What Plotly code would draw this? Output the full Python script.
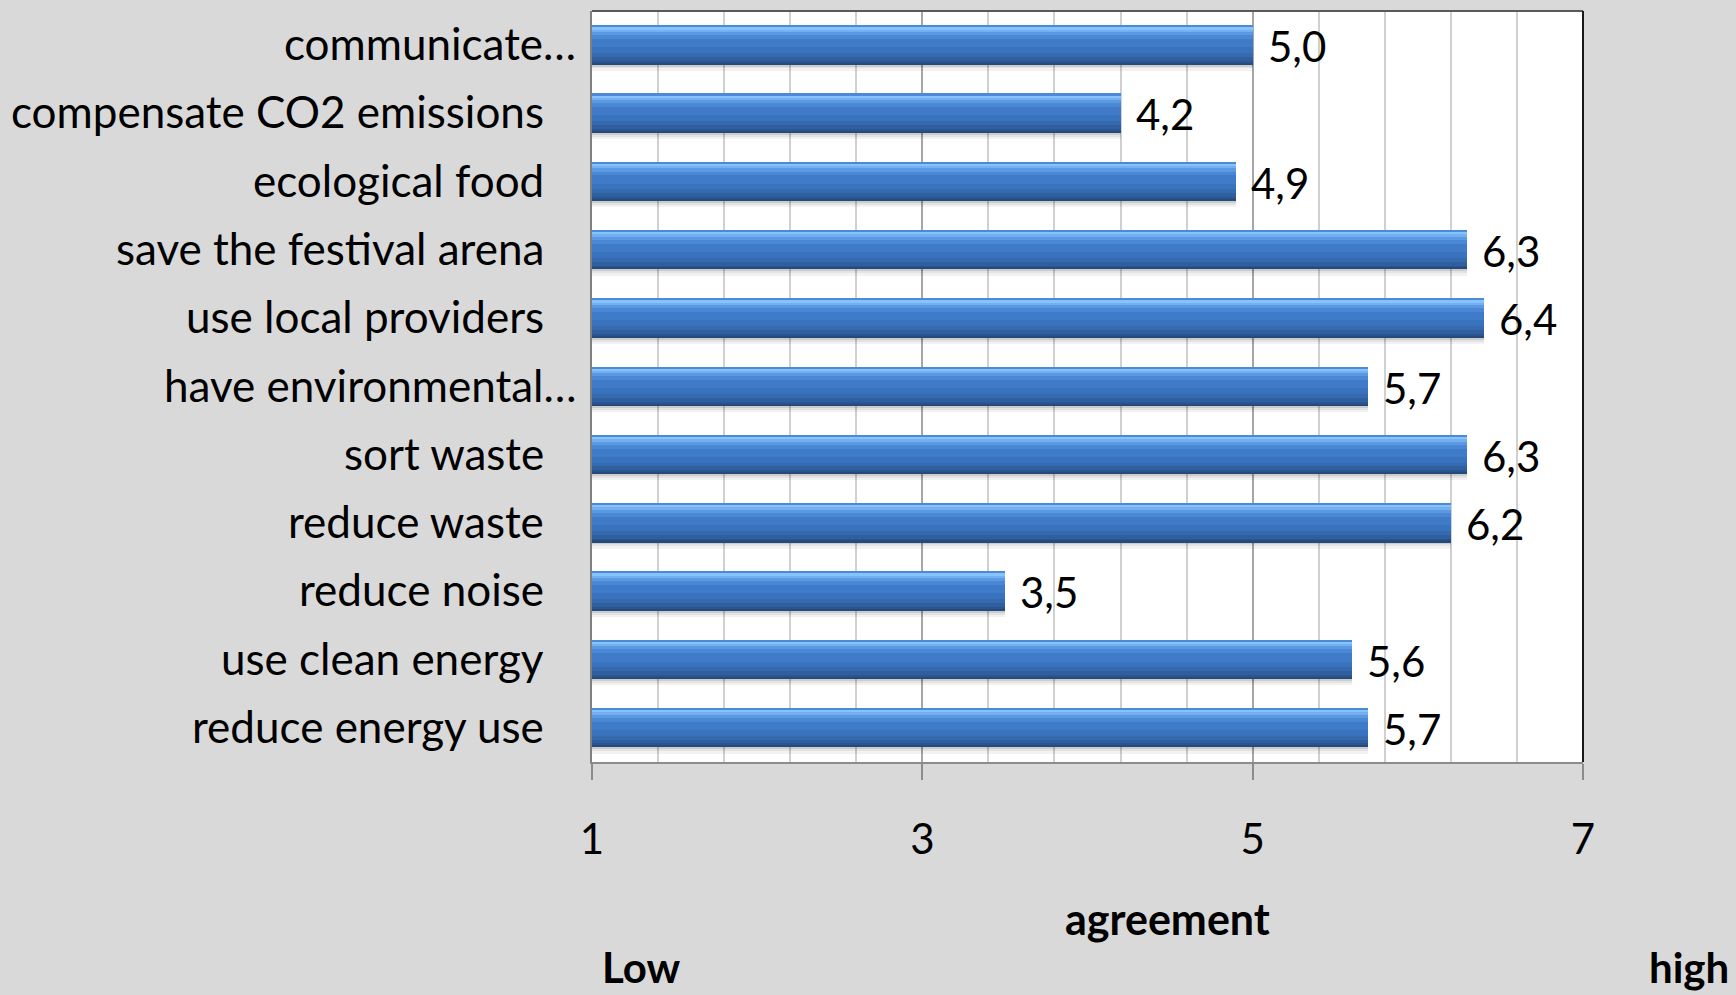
import plotly.graph_objects as go

# Survey items, top to bottom, with mean agreement (1 = low, 7 = high)
categories = [
    "communicate…",
    "compensate CO2 emissions",
    "ecological food",
    "save the festival arena",
    "use local providers",
    "have environmental…",
    "sort waste",
    "reduce waste",
    "reduce noise",
    "use clean energy",
    "reduce energy use",
]
values = [5.0, 4.2, 4.9, 6.3, 6.4, 5.7, 6.3, 6.2, 3.5, 5.6, 5.7]
x_ticks = [1, 3, 5, 7]

W_PX, H_PX = 1736, 995
PLOT_L, PLOT_R, PLOT_T, PLOT_B = 592, 1583, 11, 762
FONT = "Lato"
BAR_W = 0.57

# Horizontal strips that fake the glossy bar gradient plus a soft drop shadow
strips = [
    (0.00, 0.04, "#4d8ad6"),
    (0.04, 0.10, "#86c2fb"),
    (0.10, 0.16, "#74aff0"),
    (0.16, 0.24, "#5b99e2"),
    (0.24, 0.34, "#4a87d5"),
    (0.34, 0.55, "#3f7bc9"),
    (0.55, 0.70, "#3a73bd"),
    (0.70, 0.80, "#356aaf"),
    (0.80, 0.90, "#2f5f9f"),
    (0.90, 0.96, "#2a5590"),
    (0.96, 1.00, "#254b7e"),
    (1.00, 1.05, "rgba(0,0,0,0.20)"),
    (1.05, 1.10, "rgba(0,0,0,0.11)"),
    (1.10, 1.16, "rgba(0,0,0,0.05)"),
]

fig = go.Figure()
for s, e, col in strips:
    fig.add_trace(go.Bar(
        y=categories, x=values, orientation="h",
        width=BAR_W * (e - s), offset=-BAR_W / 2 + BAR_W * s,
        marker=dict(color=col, line=dict(width=0)),
        showlegend=False, hoverinfo="skip" if s > 0 else "x+y",
    ))


def px_x(p):
    return (p - PLOT_L) / (PLOT_R - PLOT_L)


def px_y(p):
    return (PLOT_B - p) / (PLOT_B - PLOT_T)


annotations = []
# Category labels (truncated items sit closer to the axis)
for cat in categories:
    annotations.append(dict(
        xref="paper", yref="y", x=0, y=cat, xanchor="right", yanchor="middle",
        xshift=-14 if cat.endswith("…") else -46, yshift=2,
        text=cat, showarrow=False, font=dict(family=FONT, size=44, color="#000000"),
    ))
# Value labels with decimal comma
for cat, v in zip(categories, values):
    annotations.append(dict(
        xref="x", yref="y", x=v, y=cat, xanchor="left", yanchor="middle",
        xshift=13, yshift=-1,
        text=f"{v:.1f}".replace(".", ","), showarrow=False,
        font=dict(family=FONT, size=42, color="#000000"),
    ))
# Axis title
annotations.append(dict(
    xref="paper", yref="paper", x=px_x(1167), y=px_y(918),
    xanchor="center", yanchor="middle", text="<b>agreement</b>", showarrow=False,
    font=dict(family=FONT, size=43, color="#000000"),
))
# Scale-end labels along the bottom edge
for txt, cx in [("Low", 641), ("high", 1689)]:
    annotations.append(dict(
        xref="paper", yref="paper", x=px_x(cx), y=px_y(994),
        xanchor="center", yanchor="bottom", text=f"<b>{txt}</b>", showarrow=False,
        font=dict(family=FONT, size=42, color="#000000"),
    ))

shapes = [
    dict(type="line", xref="paper", yref="paper", x0=0, x1=1, y0=1, y1=1,
         line=dict(color="#595959", width=2)),
    dict(type="line", xref="paper", yref="paper", x0=1, x1=1, y0=0, y1=1,
         line=dict(color="#1a1a1a", width=2)),
]

fig.update_layout(
    width=W_PX, height=H_PX,
    margin=dict(l=PLOT_L, r=W_PX - PLOT_R, t=PLOT_T, b=H_PX - PLOT_B, pad=0),
    paper_bgcolor="#d9d9d9", plot_bgcolor="#ffffff",
    barmode="overlay", bargap=0,
    annotations=annotations, shapes=shapes,
    xaxis=dict(
        range=[1, 7], tickmode="array", tickvals=x_ticks,
        ticktext=[str(t) for t in x_ticks],
        showgrid=True, gridcolor="#a6a6a6", gridwidth=1.5,
        minor=dict(tick0=1, dtick=0.4, showgrid=True, gridcolor="#d0d0d0", gridwidth=1.5),
        ticks="outside", ticklen=16, tickcolor="#8c8c8c", tickwidth=1.5,
        showline=True, linecolor="#8c8c8c", linewidth=1.5,
        tickfont=dict(family=FONT, size=42, color="#000000"),
        ticklabelstandoff=24, zeroline=False, fixedrange=True,
    ),
    yaxis=dict(
        autorange="reversed", showticklabels=False, showgrid=False,
        showline=True, linecolor="#808080", linewidth=1.5, ticks="",
        zeroline=False, fixedrange=True,
    ),
)

fig.write_html("out.html")
